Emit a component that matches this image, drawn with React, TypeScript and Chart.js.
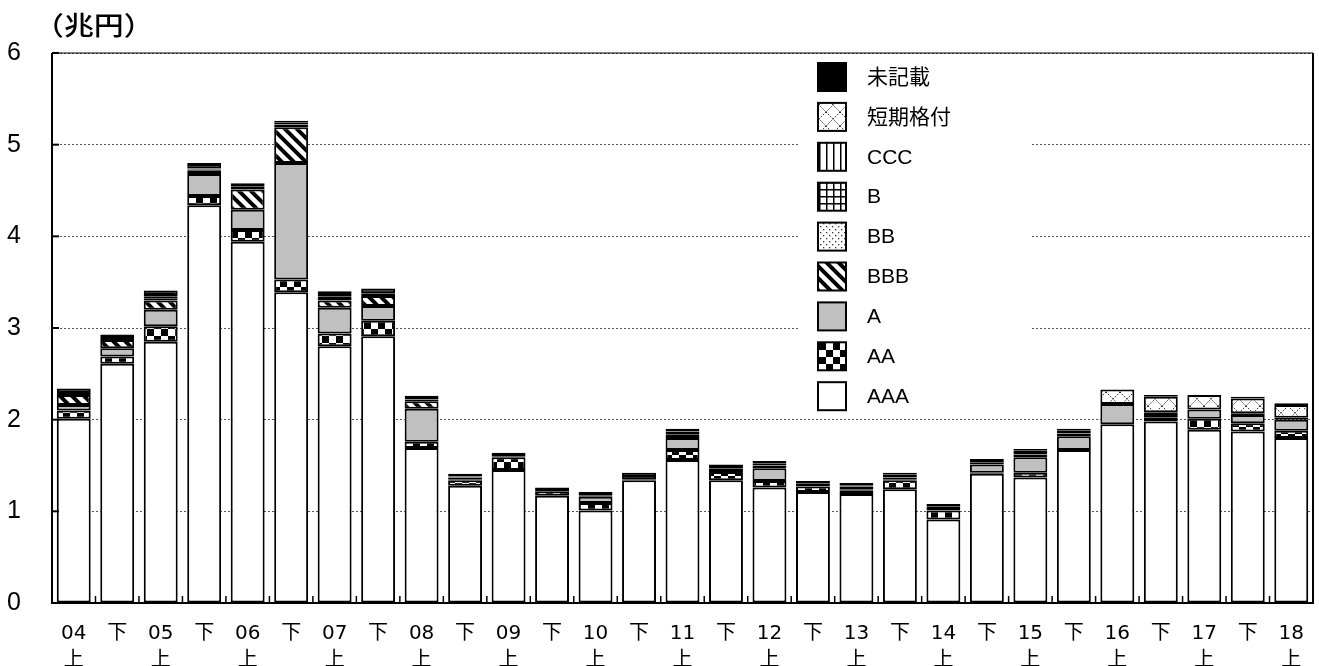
import React, { useEffect, useRef } from "react";
import { Chart, registerables } from "chart.js";

Chart.register(...registerables);

const categories: (string | string[])[] = [
  ["04", "上"], "下", ["05", "上"], "下", ["06", "上"], "下", ["07", "上"], "下",
  ["08", "上"], "下", ["09", "上"], "下", ["10", "上"], "下", ["11", "上"], "下",
  ["12", "上"], "下", ["13", "上"], "下", ["14", "上"], "下", ["15", "上"], "下",
  ["16", "上"], "下", ["17", "上"], "下", ["18", "上"],
];

const yTicks = [0, 1, 2, 3, 4, 5, 6];

const seriesAAA = [2.01, 2.61, 2.85, 4.34, 3.94, 3.39, 2.80, 2.91, 1.69, 1.28, 1.45, 1.17, 1.01, 1.34, 1.56, 1.34, 1.26, 1.21, 1.19, 1.24, 0.91, 1.41, 1.37, 1.67, 1.95, 1.98, 1.89, 1.87, 1.80];
const seriesAA = [0.09, 0.08, 0.17, 0.10, 0.13, 0.14, 0.14, 0.17, 0.07, 0.06, 0.14, 0.05, 0.08, 0.01, 0.11, 0.09, 0.07, 0.06, 0.04, 0.10, 0.10, 0.01, 0.05, 0, 0, 0.04, 0.12, 0.09, 0.08];
const seriesA = [0.06, 0.09, 0.18, 0.24, 0.22, 1.27, 0.28, 0.16, 0.36, 0.01, 0.01, 0, 0.07, 0, 0.13, 0.02, 0.14, 0, 0.01, 0.01, 0.04, 0.09, 0.17, 0.15, 0.22, 0.03, 0.10, 0.09, 0.12];
const seriesBBB = [0.11, 0.09, 0.10, 0.04, 0.22, 0.39, 0.08, 0.11, 0.08, 0.02, 0, 0, 0.01, 0, 0.04, 0.02, 0.03, 0.03, 0.03, 0.02, 0, 0.02, 0.03, 0.03, 0, 0.03, 0, 0.02, 0.02];
const seriesBB = [0.01, 0.01, 0.02, 0.01, 0.03, 0.03, 0.04, 0.01, 0, 0.01, 0, 0, 0, 0, 0.03, 0, 0.02, 0, 0.01, 0, 0, 0.02, 0, 0, 0, 0, 0, 0, 0];
const seriesB = [0.01, 0.01, 0.02, 0.01, 0.02, 0.02, 0.02, 0.02, 0.02, 0, 0, 0, 0, 0, 0, 0, 0, 0, 0, 0, 0, 0, 0, 0, 0, 0, 0, 0, 0];
const seriesCCC = [0, 0, 0.01, 0, 0, 0, 0, 0, 0, 0, 0, 0, 0, 0, 0, 0, 0, 0, 0, 0, 0, 0, 0, 0, 0, 0, 0, 0, 0];
const seriesShort = [0, 0, 0, 0, 0, 0, 0, 0, 0, 0, 0, 0, 0, 0, 0, 0, 0, 0, 0, 0.03, 0, 0, 0.04, 0.03, 0.16, 0.17, 0.16, 0.16, 0.14];
const seriesNone = [0.05, 0.04, 0.06, 0.06, 0.02, 0.02, 0.04, 0.05, 0.04, 0.03, 0.04, 0.04, 0.04, 0.07, 0.03, 0.04, 0.03, 0.03, 0.03, 0.02, 0.03, 0.02, 0.02, 0.02, 0, 0.02, 0, 0.02, 0.02];

const seriesNames = ["AAA", "AA", "A", "BBB", "BB", "B", "CCC", "短期格付", "未記載"];
const seriesValues = [seriesAAA, seriesAA, seriesA, seriesBBB, seriesBB, seriesB, seriesCCC, seriesShort, seriesNone];
const seriesKinds = ["aaa", "aa", "a", "bbb", "bb", "b", "ccc", "short", "none"];

function makeFill(kind: string): CanvasPattern | string {
  if (kind === "aaa") return "#ffffff";
  if (kind === "a") return "#c0c0c0";
  if (kind === "none") return "#000000";
  const c = document.createElement("canvas");
  let s = 12;
  if (kind === "aa") s = 14;
  if (kind === "bb") s = 6;
  if (kind === "b" || kind === "ccc") s = 7;
  if (kind === "short") s = 14;
  c.width = s;
  c.height = s;
  const g = c.getContext("2d")!;
  g.fillStyle = "#fff";
  g.fillRect(0, 0, s, s);
  g.fillStyle = "#000";
  g.strokeStyle = "#000";
  if (kind === "aa") {
    g.fillRect(0, 0, 7, 7);
    g.fillRect(7, 7, 7, 7);
  } else if (kind === "bbb") {
    g.lineWidth = 4;
    g.beginPath();
    for (let o = -s; o <= s; o += s) {
      g.moveTo(o - 2, -2);
      g.lineTo(o + s + 2, s + 2);
    }
    g.stroke();
  } else if (kind === "bb") {
    g.fillStyle = "#333";
    g.fillRect(1, 1, 1.3, 1.3);
    g.fillRect(4, 4, 1.3, 1.3);
  } else if (kind === "b") {
    g.fillRect(0, 0, 1.5, s);
    g.fillRect(0, 0, s, 1.5);
  } else if (kind === "ccc") {
    g.fillRect(0, 0, 1.5, s);
  } else if (kind === "short") {
    g.strokeStyle = "#333";
    g.lineWidth = 1;
    g.setLineDash([1.5, 1.2]);
    g.beginPath();
    g.moveTo(0, 0);
    g.lineTo(s, s);
    g.moveTo(s, 0);
    g.lineTo(0, s);
    g.stroke();
  }
  return g.createPattern(c, "repeat")!;
}

export default function App() {
  const ref = useRef<HTMLCanvasElement | null>(null);

  useEffect(() => {
    if (!ref.current) return;
    const fills = seriesKinds.map(makeFill);

    const datasets = seriesNames.map((name, i) => ({
      label: name,
      data: seriesValues[i].map((v) => (v === 0 ? null : v)),
      backgroundColor: fills[i] as any,
      borderColor: "#000",
      borderWidth: 2,
      borderSkipped: false as any,
      barPercentage: 0.78,
      categoryPercentage: 1,
    }));

    const decor = {
      id: "decor",
      afterDatasetsDraw(chart: any) {
        const { ctx, chartArea } = chart;
        const { left, right, top, bottom } = chartArea;
        const yScale = chart.scales.y;
        ctx.save();
        // legend box
        ctx.fillStyle = "#fff";
        ctx.fillRect(800, 57, 232, 357);
        const order = [8, 7, 6, 5, 4, 3, 2, 1, 0];
        ctx.font = '21px "Liberation Sans", "Noto Sans CJK JP", sans-serif';
        ctx.textBaseline = "middle";
        ctx.textAlign = "left";
        order.forEach((di, row) => {
          const cy = 77 + row * 39.9;
          const bx = 818;
          const by = cy - 14;
          ctx.fillStyle = fills[di] as any;
          ctx.fillRect(bx, by, 28, 28);
          ctx.strokeStyle = "#000";
          ctx.lineWidth = 2;
          ctx.strokeRect(bx, by, 28, 28);
          ctx.fillStyle = "#000";
          ctx.fillText(seriesNames[di], 867, cy + 1);
        });
        // frame
        ctx.strokeStyle = "#000";
        ctx.lineWidth = 1.2;
        ctx.beginPath();
        ctx.moveTo(left, top);
        ctx.lineTo(right, top);
        ctx.stroke();
        ctx.lineWidth = 2;
        ctx.beginPath();
        ctx.moveTo(left, top);
        ctx.lineTo(left, bottom);
        ctx.lineTo(right, bottom);
        ctx.lineTo(right, top);
        ctx.stroke();
        // inward y ticks
        ctx.lineWidth = 2;
        yTicks.forEach((t) => {
          const py = yScale.getPixelForValue(t);
          ctx.beginPath();
          ctx.moveTo(left, py);
          ctx.lineTo(left + 7, py);
          ctx.stroke();
        });
        // inward x ticks at category boundaries
        const n = categories.length;
        const w = (right - left) / n;
        ctx.lineWidth = 1.5;
        for (let i = 1; i < n; i++) {
          const px = left + i * w;
          ctx.beginPath();
          ctx.moveTo(px, bottom);
          ctx.lineTo(px, bottom - 7);
          ctx.stroke();
        }
        ctx.restore();
      },
    };

    const chart = new Chart(ref.current, {
      type: "bar",
      data: { labels: categories as any, datasets: datasets as any },
      options: {
        animation: false,
        responsive: true,
        maintainAspectRatio: false,
        layout: { padding: { top: 53, right: 6, left: 0, bottom: 0 } },
        plugins: {
          legend: { display: false },
          tooltip: { enabled: false },
        },
        scales: {
          x: {
            stacked: true,
            grid: { display: false },
            border: { display: false },
            ticks: {
              autoSkip: false,
              maxRotation: 0,
              minRotation: 0,
              padding: 10,
              color: "#000",
              font: { family: '"DejaVu Sans", "Noto Sans CJK JP", sans-serif', size: 20, lineHeight: 1.32 },
            },
            afterFit: (s: any) => {
              s.height = 63;
            },
          },
          y: {
            stacked: true,
            min: 0,
            max: 6,
            afterBuildTicks: (s: any) => {
              s.ticks = yTicks.map((v) => ({ value: v }));
            },
            ticks: {
              padding: 31,
              color: "#000",
              font: { family: '"Liberation Sans", Arial, sans-serif', size: 25 },
            },
            grid: { color: "#555", lineWidth: 1, drawTicks: false },
            border: { display: false, dash: [2, 2] },
            afterFit: (s: any) => {
              s.width = 52;
            },
          },
        },
      },
      plugins: [decor],
    });
    return () => chart.destroy();
  }, []);

  return (
    <div style={{ position: "fixed", left: 0, top: 0, width: 1319, height: 666, background: "#fff" }}>
      <canvas ref={ref} />
      <div
        style={{
          position: "absolute",
          left: 34,
          top: 11,
          fontFamily: '"Noto Sans CJK JP", sans-serif',
          fontSize: 26,
          fontWeight: 500,
          lineHeight: 1,
          transform: "scaleX(1.15)",
          transformOrigin: "left top",
          whiteSpace: "nowrap",
          color: "#000",
        }}
      >
        （兆円）
      </div>
    </div>
  );
}
